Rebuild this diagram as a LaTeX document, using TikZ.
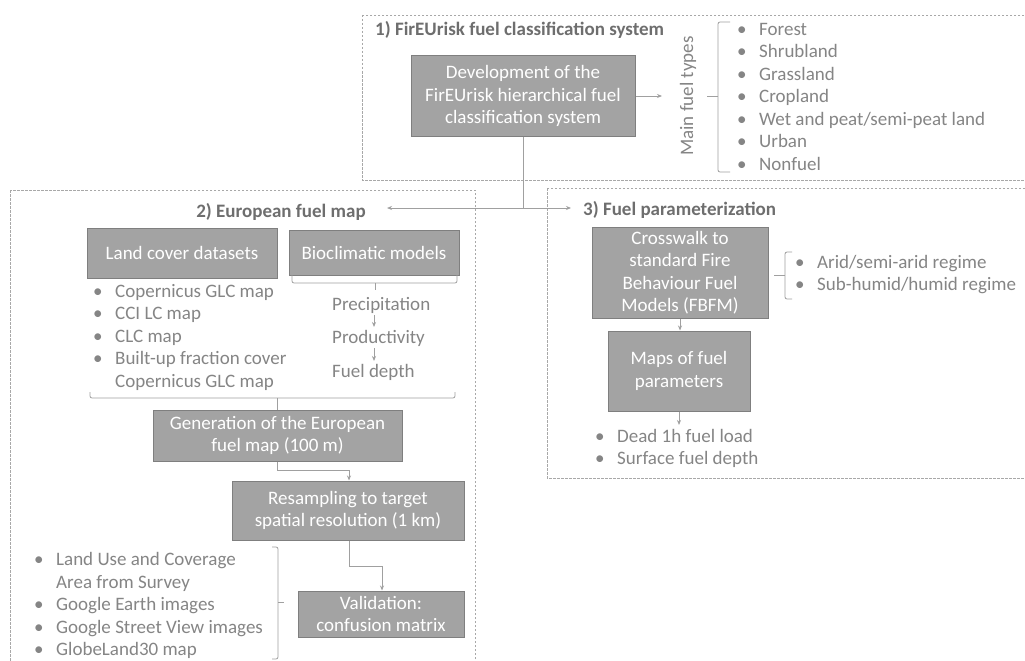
\documentclass[tikz,border=0pt]{standalone}
\usepackage{fontspec}
\setmainfont{Carlito}
\usetikzlibrary{arrows.meta,calc}
\definecolor{boxgray}{HTML}{A3A3A3}
\definecolor{edgegray}{HTML}{7F7F7F}
\definecolor{txtgray}{HTML}{858585}
\definecolor{ttlgray}{HTML}{6E6E6E}
\definecolor{dashgray}{HTML}{A8A8A8}
\definecolor{linegray}{HTML}{A0A0A0}
\newcommand{\bul}{\makebox[22pt][l]{•}}
\newcommand{\nob}{\makebox[22pt][l]{}}
\tikzset{
  gbox/.style={draw=edgegray, fill=boxgray, text=white, align=center, inner sep=0pt, line width=1pt,
    font=\fontsize{19}{22.5}\selectfont},
  grp/.style={draw=dashgray, dash pattern=on 2.5pt off 1.5pt, line width=0.8pt},
  ttl/.style={text=ttlgray, font=\bfseries\fontsize{19}{22}\selectfont, inner sep=0pt},
  lst/.style={text=txtgray, align=left, inner sep=0pt, font=\fontsize{19}{22.5}\selectfont},
  conn/.style={draw=linegray, line width=1pt},
  arr/.style={conn, -{Stealth[length=5pt,width=4pt]}},
}
\begin{document}
\begin{tikzpicture}[x=1pt,y=-1pt]
\useasboundingbox (0,0) rectangle (1025,661);
\clip (0,0) rectangle (1025,661);
\fill[white] (0,0) rectangle (1025,661);
% group frames
\draw[grp] (362,15) rectangle (1040,180);
\draw[grp] (10,190) rectangle (475,680);
\draw[grp] (547,188) rectangle (1040,478);
% titles
\node[ttl, anchor=west] (t1) at (375,30) {1) FirEUrisk fuel classification system};
\node[ttl] (t2) at (281,212) {2) European fuel map};
\node[ttl, anchor=west] (t3) at (583,210) {3) Fuel parameterization};
% section 1
\node[gbox, minimum width=224pt, minimum height=80pt] (dev) at (523,96)
  {Development of the\\FirEUrisk hierarchical fuel\\classification system};
\coordinate (dr) at (662,96);
\draw[arr] (dev.east) -- (dr);
\node[lst, rotate=90] (mft) at (688,96) {Main fuel types};
\draw[conn, line width=0.8pt, rounded corners=2pt] (730,22) -- (718,22) -- (718,172) -- (730,172);
\draw[conn, line width=0.8pt] (718,96) -- (707,96);
\node[lst, anchor=west] (types) at (737,96.5)
  {\bul Forest\\\bul Shrubland\\\bul Grassland\\\bul Cropland\\\bul Wet and peat/semi-peat land\\\bul Urban\\\bul Nonfuel};
% junction
\coordinate (j) at (523,208);
\coordinate (jl) at (387,208);
\coordinate (jr) at (571,208);
\draw[conn] (dev.south) -- (j);
\draw[arr] (j) -- (jl);
\draw[arr] (j) -- (jr);
% section 2
\node[gbox, minimum width=190pt, minimum height=50pt] (lcd) at (182,253) {Land cover datasets};
\node[gbox, minimum width=170pt, minimum height=45pt] (bio) at (374,252.5) {Bioclimatic models};
\draw[conn, line width=0.8pt, rounded corners=2pt] (292,275) -- (292,283) -- (457,283) -- (457,275);
\node[lst, anchor=west] (prec) at (332,305) {Precipitation};
\node[lst, anchor=west] (prod) at (332,338) {Productivity};
\node[lst, anchor=west] (fdep) at (332,372) {Fuel depth};
\draw[conn, line width=0.8pt] (375,283) -- (375,290);
\draw[arr, line width=0.8pt] (374,315) -- (374,327);
\draw[arr, line width=0.8pt] (374,348) -- (374,361);
\node[lst, anchor=west] (lcl) at (93,337)
  {\bul Copernicus GLC map\\\bul CCI LC map\\\bul CLC map\\\bul Built-up fraction cover\\\nob Copernicus GLC map};
\draw[conn, line width=0.8pt, rounded corners=2pt] (90,392) -- (90,398) -- (455,398) -- (455,392);
\node[gbox, minimum width=249pt, minimum height=51pt] (gen) at (277.5,435.5)
  {Generation of the European\\fuel map (100 m)};
\draw[conn, line width=0.8pt] (277.5,398) -- (gen.north);
\node[gbox, minimum width=232pt, minimum height=59pt] (res) at (348,510.5)
  {Resampling to target\\spatial resolution (1 km)};
\node[gbox, minimum width=166pt, minimum height=46pt] (val) at (381,614)
  {Validation:\\confusion matrix};
\draw[arr] (gen.south) |- (349,470) -- (res.north -| 349,0);
\draw[arr] (res.south -| 349,0) |- (382,566) -- (val.north -| 382,0);
\node[lst, anchor=west] (vl) at (34,605.5)
  {\bul Land Use and Coverage\\\nob Area from Survey\\\bul Google Earth images\\\bul Google Street View images\\\bul GlobeLand30 map};
\draw[conn, line width=0.8pt, rounded corners=2pt] (272,547) -- (278,547) -- (278,659) -- (272,659);
\draw[conn, line width=0.8pt] (278,602) -- (284,602);
% section 3
\node[gbox, minimum width=176pt, minimum height=91pt] (cw) at (680,272.5)
  {Crosswalk to\\standard Fire\\Behaviour Fuel\\Models (FBFM)};
\node[gbox, minimum width=142pt, minimum height=80pt] (maps) at (679,371)
  {Maps of fuel\\parameters};
\draw[arr] (cw.south -| 680,0) -- (maps.north -| 680,0);
\coordinate (me) at (679,425);
\draw[arr] (maps.south) -- (me);
\node[lst, anchor=west] (ml) at (595,448.5) {\bul Dead 1h fuel load\\\bul Surface fuel depth};
\draw[conn, line width=0.8pt, rounded corners=2pt] (792,252) -- (785,252) -- (785,299) -- (792,299);
\draw[conn, line width=0.8pt] (785,275) -- (774,275);
\node[lst, anchor=west] (rg) at (795,274.5) {\bul Arid/semi-arid regime\\\bul Sub-humid/humid regime};
\end{tikzpicture}
\end{document}
